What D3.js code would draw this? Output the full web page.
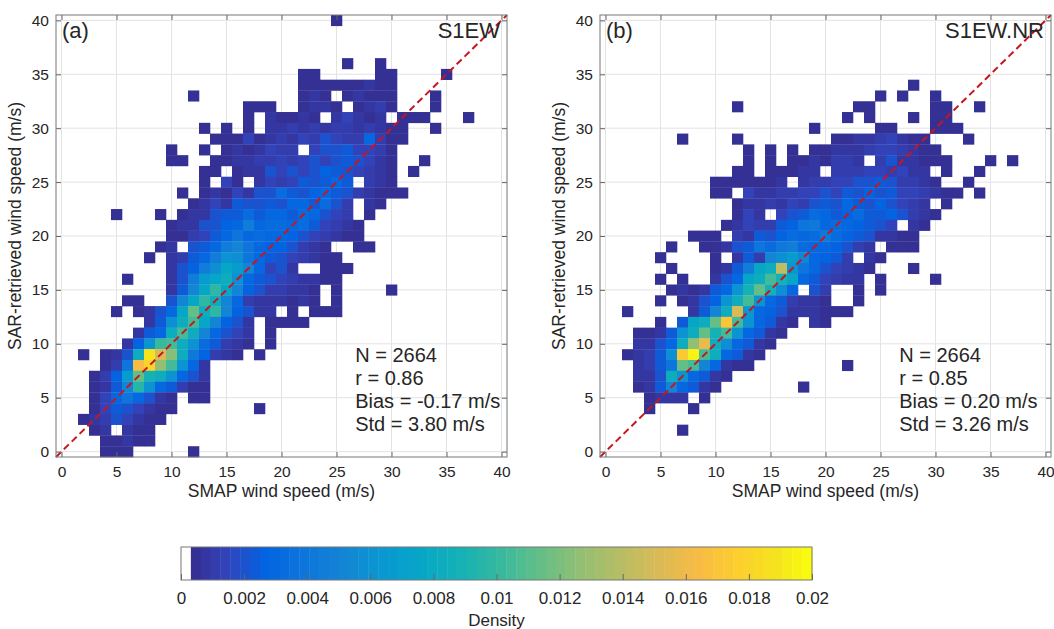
<!DOCTYPE html>
<html lang="en">
<head>
<meta charset="UTF-8">
<title>SAR vs SMAP wind speed density</title>
<script src="https://d3js.org/d3.v7.min.js"></script>
<style>
  body { margin: 0; background: #fff; }
  svg text { font-family: "Liberation Sans", Arial, Helvetica, sans-serif; fill: #262626; }
  .axis text { font-size: 15.5px; fill: #262626; }
  .axis line { stroke: #666; }
  .axis path { display: none; }
</style>
</head>
<body>
<svg id="chart" width="1054" height="629"></svg>
<script>
// axis ticks (m/s) and colorbar ticks (density)
const tickValues = [0, 5, 10, 15, 20, 25, 30, 35, 40];
const cbarTicks = [0, 0.002, 0.004, 0.006, 0.008, 0.01, 0.012, 0.014, 0.016, 0.018, 0.02];
const cbarLabels = ["0", "0.002", "0.004", "0.006", "0.008", "0.01", "0.012", "0.014", "0.016", "0.018", "0.02"];
const sampleSize = 2664;

const statsA = ["N = 2664", "r = 0.86", "Bias = -0.17 m/s", "Std = 3.80 m/s"];
const statsB = ["N = 2664", "r = 0.85", "Bias = 0.20 m/s", "Std = 3.26 m/s"];

// counts per 1 m/s bin, one string per SAR speed from 40 (top) down to 0,
// characters are SMAP speed 0..40 (grouped by 5), '.' = empty,
// 1-9, a-z = 10-35, A-Z = 36-61
const rowsA = [
  "..... ..... ..... ..... ..... 1.... ..... ..... .", // 40
  "..... ..... ..... ..... ..... ..... ..... ..... .",
  "..... ..... ..... ..... ..... ..... ..... ..... .",
  "..... ..... ..... ..... ..... ..... ..... ..... .",
  "..... ..... ..... ..... ..... .1..1 ..... ..... .", // 36
  "..... ..... ..... ..... ..11. ....1 1.... 1.... .",
  "..... ..... ..... ..... ..111 11121 1.... ..... .",
  "..... ..... ..1.. ..... ..121 .1211 1...1 ..... .",
  "..... ..... ..... ..111 ..122 1.123 1...1 ..... .", // 32
  "..... ..... ..... ..1.2 1121. 24212 .111. ..1.. .",
  "..... ..... ...1. 1.1.2 23232 33232 11..1 ..... .", // 30
  "..... ..... ....1 11412 32435 43383 11... ..... .",
  "..... ..... 1..1. 12124 33.45 56443 1.... ..... .",
  "..... ..... 11..1 12233 43454 56542 1..1. ..... .",
  "..... ..... ...11 .1225 45457 65432 1.1.. ..... .",
  "..... ..... ...1. 41.24 34656 86.32 1.... ..... .", // 25
  "..... ..... .1.12 14255 96578 65321 11... ..... .",
  "..... ..... ..124 26556 58869 53.21 ..... ..... .",
  "..... 1...1 .1225 66968 86985 43.1. ..... ..... .",
  "..... ..... 12255 78c89 98964 321.. ..... ..... .",
  "..... ..... 11346 8a898 87543 211.. ..... ..... .", // 20
  "..... ....1 2.568 cea87 75321 ..11. ..... ..... .",
  "..... ...1. 2368c gfa86 54321 1.... ..... ..... .",
  "..... ..... 257cf kie84 52..1 11... ..... ..... .",
  "..... .1... 25cik mf865 43221 1.... ..... ..... .",
  "..... ..... 26ekq ke753 3221. 1.... 1.... ..... .", // 15
  "..... .11.. 5ekqm e8322 2121. 1.... ..... ..... .",
  "..... 1.125 8kumq e7522 .1.11 1.... ..... ..... .",
  "..... ...26 fmske 752.1 111.. ..... ..... ..... .",
  "..... ..268 msme8 542.1 ..... ..... ..... ..... .",
  "..... .27gr smg96 321.1 ..... ..... ..... ..... .", // 10
  "..1.1 25mOE xmb73 21.1. ..... ..... ..... ..... .",
  "....1 3aIMy sg82. ..... ..... ..... ..... ..... .",
  "...13 7iuom g852. ..... ..... ..... ..... ..... .",
  "...12 6epg8 6311. ..... ..... ..... ..... ..... .",
  "...14 8a852 1.11. ..... ..... ..... ..... ..... .", // 5
  "...14 65421 1.... ...1. ..... ..... ..... ..... .",
  "..123 54211 ..... ..... ..... ..... ..... ..... .",
  "...12 .211. ..... ..... ..... ..... ..... ..... .",
  "....1 1211. ..... ..... ..... ..... ..... ..... .",
  "....1 11... ..1.. ..... ..... ..... ..... ..... ."  // 0
];

const rowsB = [
  "..... ..... ..... ..... ..... ..... ..... ..... .", // 40
  "..... ..... ..... ..... ..... ..... ..... ..... .",
  "..... ..... ..... ..... ..... ..... ..... ..... .",
  "..... ..... ..... ..... ..... ..... ..... ..... .",
  "..... ..... ..... ..... ..... ..... ..... ..... .",
  "..... ..... ..... ..... ..... ..... ..... ..... .", // 35
  "..... ..... ..... ..... ..... ...1. ..... ..... .",
  "..... ..... ..... ..... ..... 1.1.. 1.... ..... .",
  "..... ..... ..1.. ..... ...11 ..... 11..1 ..... .",
  "..... ..... ..... ..... ..1.1 ...1. 11... ..... .",
  "..... ..... ..... ....1 ..... 11... 111.. ..... .", // 30
  "..... ..1.. ..1.. ..... .1122 34211 ...1. ..... .",
  "..... ..... ...1. 1.1.1 12223 44321 1.... ..... .",
  "..... ..... ...1. 1.112 1332. 35221 11... 1.1.. .",
  "..... ..... ..11. 11122 .3334 43422 .1..1 ..... .",
  "..... ..... 11111 12.23 34455 65332 1..1. ..... .", // 25
  "..... ..... 11.42 23344 54657 56443 211.1 ..... .",
  "..... ..... ..122 32435 65865 75432 .1... ..... .",
  "..... ..... ..142 .4569 86796 67532 1.... ..... .",
  "..... ..... .1243 367ab 89876 54.21 ..... ..... .",
  "..... ...11 1.326 57989 b9765 2211. ..... ..... .", // 20
  "..... .1..1 1256a 9bc98 87532 .111. ..... ..... .",
  "..... 1.... 1.263 efie8 763.2 1.... ..... ..... .",
  "..... .1... 126ck mCga8 54321 ...1. ..... ..... .",
  "..... 1.1.. 258km sok86 4322. 1.... 1.... ..... .",
  "..... .1212 68gou of8.5 3..1. 1.... ..... ..... .", // 15
  "..... 1.125 7gmsg 86322 1..1. ..... ..... ..... .",
  "..1.. ...26 emEh8 75222 111.. ..... ..... ..... .",
  "..... 1.6km uJsg8 621.2 1.... ..... ..... ..... .",
  "...11 26gmu osg86 21... ..... ..... ..... ..... .",
  "...22 58myG mf862 1.... ..... ..... ..... ..... .", // 10
  "..123 6fKQs m8621 ..... ..... ..... ..... ..... .",
  "...23 6ause 8211. ..... ..1.. ..... ..... ..... .",
  "...22 5mg86 21... ..... ..... ..... ..... ..... .",
  "...12 6e862 1.... ...1. ..... ..... ..... ..... .",
  "....1 222.1 ..... ..... ..... ..... ..... ..... .", // 5
  "....1 ...1. ..... ..... ..... ..... ..... ..... .",
  "..... ..... ..... ..... ..... ..... ..... ..... .",
  "..... ..1.. ..... ..... ..... ..... ..... ..... .",
  "..... ..... ..... ..... ..... ..... ..... ..... .",
  "..... ..... ..... ..... ..... ..... ..... ..... ."  // 0
];

// parula, sampled every 4th entry of the 64 colour map
const parulaStops = [
  [0.2081, 0.1663, 0.5292], [0.1959, 0.2645, 0.7279], [0.0117, 0.3875, 0.8820],
  [0.0498, 0.4586, 0.8641], [0.0793, 0.5200, 0.8312], [0.0343, 0.5966, 0.8199],
  [0.0228, 0.6535, 0.7768], [0.0843, 0.6928, 0.7062], [0.2178, 0.7250, 0.6193],
  [0.3953, 0.7459, 0.5244], [0.5709, 0.7485, 0.4494], [0.7184, 0.7411, 0.3905],
  [0.8507, 0.7299, 0.3360], [0.9739, 0.7314, 0.2666], [0.9880, 0.8066, 0.1794],
  [0.9589, 0.8949, 0.1132], [0.9763, 0.9831, 0.0538]
];
const parula = d3.scaleLinear()
  .domain([0, 4, 8, 12, 16, 20, 24, 28, 32, 36, 40, 44, 48, 52, 56, 60, 63])
  .range(parulaStops.map(c => d3.rgb(c[0] * 255, c[1] * 255, c[2] * 255).formatHex()))
  .interpolate(d3.interpolateRgb);

const code = "0123456789abcdefghijklmnopqrstuvwxyzABCDEFGHIJKLMNOPQRSTUVWXYZ";
const nLevels = 64, cmax = 0.02;
const levelColor = lvl => lvl === 0 ? "#ffffff" : parula(lvl);
const densityLevel = d => Math.min(nLevels - 1, Math.floor(d / cmax * nLevels));

const svg = d3.select("#chart");
const plotTop = 15, plotBottom = 457;

function drawPanel(rows, left, tag, name, stats) {
  const x = d3.scaleLinear().domain([-0.5, 40.5]).range([left, left + 451]);
  const y = d3.scaleLinear().domain([-0.5, 40.5]).range([plotBottom, plotTop]);
  const g = svg.append("g");

  // grid
  g.selectAll(".gx").data(tickValues).join("line")
    .attr("x1", d => x(d)).attr("x2", d => x(d))
    .attr("y1", plotTop).attr("y2", plotBottom)
    .attr("stroke", "#e3e3e3");
  g.selectAll(".gy").data(tickValues).join("line")
    .attr("y1", d => y(d)).attr("y2", d => y(d))
    .attr("x1", x.range()[0]).attr("x2", x.range()[1])
    .attr("stroke", "#e3e3e3");

  // density cells
  const cells = [];
  rows.forEach((r, i) => {
    const s = r.replace(/ /g, "");
    for (let k = 0; k < s.length; k++) {
      const c = code.indexOf(s[k]);
      if (c > 0) cells.push({ sx: k, sy: 40 - i, count: c });
    }
  });
  g.selectAll("rect.cell").data(cells).join("rect")
    .attr("class", "cell")
    .attr("x", d => x(d.sx - 0.5))
    .attr("y", d => y(d.sy + 0.5))
    .attr("width", d => x(d.sx + 0.5) - x(d.sx - 0.5) + 0.3)
    .attr("height", d => y(d.sy - 0.5) - y(d.sy + 0.5) + 0.3)
    .attr("fill", d => levelColor(densityLevel(d.count / sampleSize)));

  // 1:1 line
  g.append("line")
    .attr("x1", x(-0.5)).attr("y1", y(-0.5))
    .attr("x2", x(40.5)).attr("y2", y(40.5))
    .attr("stroke", "#c8161e").attr("stroke-width", 2)
    .attr("stroke-dasharray", "7,4");

  // axes, ticks pointing inward on all four sides
  g.append("g").attr("class", "axis")
    .attr("transform", `translate(0,${plotBottom})`)
    .call(d3.axisBottom(x).tickValues(tickValues).tickSize(-5).tickSizeOuter(0).tickPadding(9));
  g.append("g").attr("class", "axis")
    .attr("transform", `translate(${x.range()[0]},0)`)
    .call(d3.axisLeft(y).tickValues(tickValues).tickSize(-5).tickSizeOuter(0).tickPadding(7));
  g.append("g").attr("class", "axis")
    .attr("transform", `translate(0,${plotTop})`)
    .call(d3.axisTop(x).tickValues(tickValues).tickSize(-5).tickSizeOuter(0).tickFormat(""));
  g.append("g").attr("class", "axis")
    .attr("transform", `translate(${x.range()[1]},0)`)
    .call(d3.axisRight(y).tickValues(tickValues).tickSize(-5).tickSizeOuter(0).tickFormat(""));

  g.append("rect")
    .attr("x", x.range()[0]).attr("y", plotTop)
    .attr("width", x.range()[1] - x.range()[0]).attr("height", plotBottom - plotTop)
    .attr("fill", "none").attr("stroke", "#777");

  // labels
  const cx = (x.range()[0] + x.range()[1]) / 2;
  g.append("text").attr("x", cx).attr("y", 497)
    .attr("text-anchor", "middle").style("font-size", "17.5px")
    .text("SMAP wind speed (m/s)");
  g.append("text")
    .attr("transform", `translate(${left - 35},226) rotate(-90)`)
    .attr("text-anchor", "middle").style("font-size", "17.5px")
    .text("SAR-retrieved wind speed (m/s)");

  g.append("text").attr("x", x.range()[0] + 6).attr("y", 38)
    .style("font-size", "22px").text(tag);
  g.append("text").attr("x", x.range()[1] - 7).attr("y", 38)
    .attr("text-anchor", "end").style("font-size", "22px").text(name);

  g.append("g").selectAll("text").data(stats).join("text")
    .attr("x", x(26.7))
    .attr("y", (d, i) => 362 + i * 23)
    .style("font-size", "20px")
    .text(d => d);
}

drawPanel(rowsA, 56, "(a)", "S1EW", statsA);
drawPanel(rowsB, 600, "(b)", "S1EW.NR", statsB);

// colorbar
const cb = d3.scaleLinear().domain([0, cmax]).range([181, 812]);
const cbTop = 547, cbBottom = 580;
const bands = d3.range(nLevels);
const cg = svg.append("g");
cg.selectAll("rect").data(bands).join("rect")
  .attr("x", d => cb(d * cmax / nLevels))
  .attr("y", cbTop)
  .attr("width", d => cb((d + 1) * cmax / nLevels) - cb(d * cmax / nLevels) + 0.4)
  .attr("height", cbBottom - cbTop)
  .attr("fill", d => levelColor(d));
cg.append("rect")
  .attr("x", cb(0)).attr("y", cbTop)
  .attr("width", cb(cmax) - cb(0)).attr("height", cbBottom - cbTop)
  .attr("fill", "none").attr("stroke", "#777");
cg.append("g").attr("class", "axis")
  .attr("transform", `translate(0,${cbBottom})`)
  .call(d3.axisBottom(cb).tickValues(cbarTicks).tickSize(-6).tickSizeOuter(0).tickPadding(12)
    .tickFormat((d, i) => cbarLabels[i]))
  .selectAll("text").style("font-size", "17px");
cg.append("text").attr("x", cb(cmax / 2)).attr("y", 626)
  .attr("text-anchor", "middle").style("font-size", "17px").text("Density");
</script>
</body>
</html>
